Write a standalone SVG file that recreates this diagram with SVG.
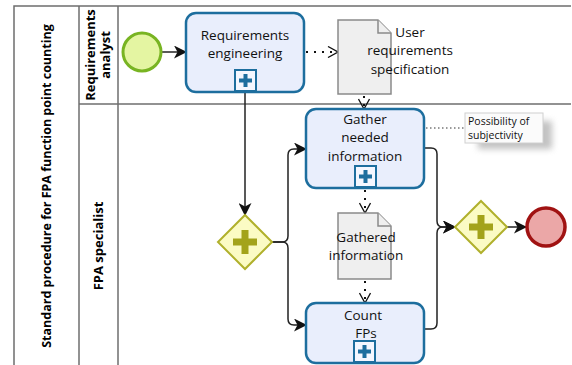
<svg xmlns="http://www.w3.org/2000/svg" width="572" height="365" viewBox="0 0 572 365">
<style>
.lane{fill:none;stroke:#6e6e6e;stroke-width:1.5}
.task{fill:#e9eefc;stroke:#1d6e9e;stroke-width:2.5}
.lbl{font-family:"Open Sans",sans-serif;font-size:13.5px;fill:#111;text-anchor:middle}
.hdr{font-family:"Open Sans",sans-serif;font-weight:bold;fill:#000;text-anchor:middle}
.mk{fill:#f4f7ff;stroke:#1d6e9e;stroke-width:2}
.mkp{stroke:#1d6e9e;stroke-width:4;fill:none}
.gw{fill:#fbfbc4;stroke:#b0b02c;stroke-width:2}
.gwp{stroke:#a3a31a;stroke-width:7;fill:none}
.doc{fill:#efefef;stroke:#8a8a8a;stroke-width:1.5}
.flow{fill:none;stroke:#222;stroke-width:1.5}
.assoc{fill:none;stroke:#111;stroke-width:2;stroke-dasharray:2 6}
</style>
<defs>
<marker id="arr" viewBox="0 0 13 13" refX="12" refY="6.5" markerWidth="13" markerHeight="13" markerUnits="userSpaceOnUse" orient="auto">
<path d="M0,0 L13,6.5 L0,13 L3.5,6.5 Z" fill="#111"/>
</marker>
<marker id="chev" viewBox="0 0 12 12" refX="11" refY="6" markerWidth="12" markerHeight="12" markerUnits="userSpaceOnUse" orient="auto">
<path d="M1,0.5 L11,6 L1,11.5" fill="none" stroke="#111" stroke-width="1.3"/>
</marker>
<filter id="blur" x="-30%" y="-30%" width="160%" height="160%"><feGaussianBlur stdDeviation="3"/></filter>
</defs>

<g id="pool">
<path class="lane" d="M14,365 V6 H571"/>
<line class="lane" x1="79" y1="6" x2="79" y2="365"/>
<line class="lane" x1="118" y1="6" x2="118" y2="365"/>
<line class="lane" x1="79" y1="104" x2="571" y2="104"/>
<text class="hdr" font-size="12.5" transform="translate(51,186) rotate(-90)">Standard procedure for FPA function point counting</text>
</g>
<g id="lane-requirements-analyst">
<text class="hdr" font-size="13" transform="translate(95,55) rotate(-90)">Requirements</text>
<text class="hdr" font-size="13" transform="translate(110,55) rotate(-90)">analyst</text>
</g>
<g id="lane-fpa-specialist">
<text class="hdr" font-size="13" transform="translate(103,246) rotate(-90)">FPA specialist</text>
</g>

<g id="connectors">
<path class="flow" d="M161,52 H186" marker-end="url(#arr)"/>
<path class="flow" d="M245,92 V215" marker-end="url(#arr)"/>
<path class="flow" d="M272,242 H282 Q288,242 288,236 V155 Q288,149 294,149 H306" marker-end="url(#arr)"/>
<path class="flow" d="M272,242 H282 Q288,242 288,248 V319 Q288,325 294,325 H306" marker-end="url(#arr)"/>
<path class="flow" d="M424,148 H431 Q437,148 437,154 V221 Q437,227 443,227 H455" marker-end="url(#arr)"/>
<path class="flow" d="M424,329 H431 Q437,329 437,323 V233 Q437,227 443,227 H455" marker-end="url(#arr)"/>
<path class="flow" d="M507,227 H526" marker-end="url(#arr)"/>
<path class="assoc" d="M306,52 H338" marker-end="url(#chev)"/>
<path class="assoc" d="M364,96 V109" marker-end="url(#chev)"/>
<path class="assoc" d="M365,190 V213" marker-end="url(#chev)"/>
<path class="assoc" d="M365,281 V303" marker-end="url(#chev)"/>
<path d="M426,128 H465" fill="none" stroke="#333" stroke-width="1" stroke-dasharray="1.5 2.5"/>
</g>

<g id="start">
<circle cx="142" cy="52" r="19" fill="#e4f5a2" stroke="#78b422" stroke-width="3"/>
</g>

<g id="task-requirements-engineering">
<rect class="task" x="186" y="13" width="118" height="79" rx="10"/>
<text class="lbl" x="245" y="40">Requirements</text>
<text class="lbl" x="245" y="58">engineering</text>
<rect class="mk" x="235" y="70" width="21" height="21"/>
<path class="mkp" d="M245.5,74 V87 M239,80.5 H252"/>
</g>

<g id="data-user-requirements">
<path class="doc" d="M338,20 H378 L391,33 V94 H338 Z"/>
<path class="doc" d="M378,20 V33 H391" fill="none"/>
<text class="lbl" x="410" y="37">User</text>
<text class="lbl" x="410" y="55">requirements</text>
<text class="lbl" x="410" y="74">specification</text>
</g>

<g id="task-gather">
<rect class="task" x="306" y="109" width="118" height="79" rx="10"/>
<text class="lbl" x="365" y="124">Gather</text>
<text class="lbl" x="365" y="142">needed</text>
<text class="lbl" x="365" y="161">information</text>
<rect class="mk" x="355" y="166" width="21" height="21"/>
<path class="mkp" d="M365.5,170 V183 M359,176.5 H372"/>
</g>

<g id="annotation">
<rect x="478" y="121" width="74" height="28" fill="#9a9a9a" opacity="0.6" filter="url(#blur)"/>
<rect x="465" y="113" width="78" height="30" fill="#fbfbfb" stroke="#d0d0d0" stroke-width="1"/>
<text font-family="Open Sans, sans-serif" font-size="10.5" fill="#111" x="468" y="125">Possibility of</text>
<text font-family="Open Sans, sans-serif" font-size="10.5" fill="#111" x="468" y="139">subjectivity</text>
</g>

<g id="gateway-split">
<path class="gw" d="M245,215 L272,242 L245,269 L218,242 Z"/>
<path class="gwp" d="M245,230 V254 M233,242 H257"/>
</g>

<g id="data-gathered">
<path class="doc" d="M338,213 H378 L391,226 V279 H338 Z"/>
<path class="doc" d="M378,213 V226 H391" fill="none"/>
<text class="lbl" x="366" y="242">Gathered</text>
<text class="lbl" x="366" y="260">information</text>
</g>

<g id="task-count">
<rect class="task" x="306" y="303" width="118" height="60" rx="10"/>
<text class="lbl" x="363" y="320" font-size="13">Count</text>
<text class="lbl" x="366" y="338" font-size="13">FPs</text>
<rect class="mk" x="354" y="341" width="21" height="21"/>
<path class="mkp" d="M364.5,345 V358 M358,351.5 H371"/>
</g>

<g id="gateway-join">
<path class="gw" d="M481,201 L507,227 L481,253 L455,227 Z"/>
<path class="gwp" d="M481,215 V239 M469,227 H493"/>
</g>

<g id="end">
<circle cx="546" cy="227" r="19" fill="#eba7a7" stroke="#a01212" stroke-width="3.5"/>
</g>
</svg>
